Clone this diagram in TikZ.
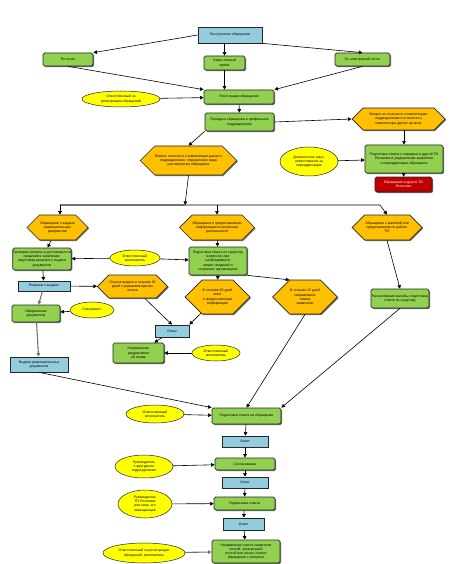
\documentclass[tikz,border=0pt]{standalone}
\usepackage{fontspec}
\setmainfont{Liberation Sans}
\usepackage{xcolor}
\usetikzlibrary{arrows.meta,positioning,shapes.geometric,shapes.symbols,shadows}
\definecolor{boxblue}  {HTML}{93CDDD}
\definecolor{boxgreen} {HTML}{92D050}
\definecolor{hexorange}{HTML}{FFC000}
\definecolor{ovalyel}  {HTML}{FFFF00}
\definecolor{boxred}   {HTML}{C00000}
\definecolor{edgedark} {HTML}{262626}

\begin{document}
\begin{tikzpicture}[x=1pt,y=-1pt,
  every node/.style={font=\fontsize{3.45}{4.2}\selectfont, align=center, inner sep=0.5pt},
  shade/.style={drop shadow={shadow xshift=1.1pt, shadow yshift=-1.1pt, fill=black!55, opacity=1}},
  stagebox/.style={draw=edgedark, line width=0.7pt, fill=boxblue, shade},
  actbox/.style={draw=edgedark, line width=0.7pt, fill=boxgreen, rounded corners=1.6pt, shade},
  stopbox/.style={draw=edgedark, line width=0.7pt, fill=boxred, rounded corners=1.6pt, text=white, shade},
  choice/.style={signal, signal to=west and east, draw=edgedark, line width=0.7pt, fill=hexorange, shade},
  role/.style={ellipse, draw=edgedark, line width=0.5pt, fill=ovalyel},
  link/.style={draw=black, line width=0.6pt, -{Triangle[length=3.6pt,width=3.6pt]}},
  greylink/.style={draw=black!55, line width=1.1pt, -{Triangle[length=3.6pt,width=3.6pt]}}]
  \useasboundingbox (0,0) rectangle (471,564);

  % intake
  \node[stagebox, minimum width=64, minimum height=16] (recv) at (230,35) {Поступление обращения};
  \node[actbox, minimum width=50, minimum height=13] (post) at (68,59.5) {По почте};
  \node[actbox, minimum width=41, minimum height=14] (visit) at (224.5,63) {Через личный\\приём};
  \node[actbox, minimum width=55, minimum height=13] (email) at (362.5,59.5) {По электронной почте};
  \node[actbox, minimum width=70, minimum height=14] (reg) at (239,97) {Регистрация обращения};
  \node[role, minimum width=78, minimum height=16] (resp1) at (121,99) {Ответственный за\\регистрацию обращений};
  \node[actbox, minimum width=69, minimum height=18] (pass) at (239.5,122) {Передача обращения в профильное\\подразделение};

  % redirect branch
  \node[choice, minimum width=93, minimum height=22] (qother) at (398.5,119) {Вопрос не относится к компетенции\\подразделения и относится к\\компетенции других органов};
  \node[actbox, minimum width=78, minimum height=28] (redir) at (404,159) {Подготовка ответа о передаче в другой ТО\\Росатома и уведомление заявителя\\о переадресации обращения};
  \node[role, minimum width=58, minimum height=29] (resp2) at (309,161.5) {Должностное лицо,\\ответственное за\\переадресацию};
  \node[stopbox, minimum width=57, minimum height=15] (otherto) at (403.5,184.5) {Обращение в другие ТО\\Росатома};

  % own competence
  \node[choice, minimum width=89, minimum height=29] (qown) at (188.5,160.5) {Вопрос относится к компетенции данного\\подразделения: определение вида\\рассмотрения обращения};
  \node[choice, minimum width=61, minimum height=25] (qpermit) at (57.5,227.5) {Обращение о выдаче\\разрешительных\\документов};
  \node[choice, minimum width=60, minimum height=25] (qinfo) at (217,227.5) {Обращение о предоставлении\\информации по вопросам\\деятельности};
  \node[choice, minimum width=70, minimum height=25] (qact) at (387,227.5) {Обращение с жалобой или\\предложением по работе\\ТО};

  \node[actbox, minimum width=56, minimum height=22] (check) at (42,259) {Проверка полноты и достоверности\\сведений в заявлении;\\подготовка решения о выдаче\\документов};
  \node[role, minimum width=50, minimum height=16] (exec1) at (135,258) {Ответственный\\исполнитель};
  \node[actbox, minimum width=58, minimum height=28] (answer) at (218,261) {Подготовка ответа по существу\\вопросов, при\\необходимости\\запрос сведений в\\сторонних организациях};
  \node[actbox, minimum width=58, minimum height=19] (actans) at (400,298.5) {Рассмотрение жалобы, подготовка\\ответа по существу};

  \node[stagebox, minimum width=52, minimum height=10] (permit) at (44,286) {Решение о выдаче};
  \node[choice, minimum width=69, minimum height=23] (refuse) at (132.5,286.5) {Отказ в выдаче в течение 30\\дней с указанием причин\\отказа};
  \node[choice, minimum width=55, minimum height=34] (info30) at (217.5,297) {В течение 30 дней\\ответ\\о предоставлении\\информации};
  \node[choice, minimum width=58, minimum height=34] (act15) at (305,297) {В течение 15 дней\\направление\\ответа\\заявителю};
  \node[stagebox, minimum width=34, minimum height=12] (reject) at (172,331) {Отказ};
  \node[actbox, minimum width=48, minimum height=17] (issue) at (36,313.5) {Оформление\\документов};
  \node[role, minimum width=44, minimum height=16] (spec) at (92,310) {Специалист};
  \node[stagebox, minimum width=58, minimum height=15] (handout) at (39,364.5) {Выдача разрешительных\\документов};
  \node[actbox, minimum width=51, minimum height=20] (notify) at (138.5,353) {Направление\\уведомления\\об отказе};
  \node[role, minimum width=48, minimum height=16] (exec2) at (216,353) {Ответственный\\исполнитель};

  % answer chain
  \node[actbox, minimum width=69, minimum height=16] (draft) at (246.5,416) {Подготовка ответа на обращение};
  \node[role, minimum width=58, minimum height=18] (exec3) at (155,414) {Ответственный\\исполнитель};
  \node[stagebox, minimum width=46, minimum height=11] (ans1) at (245,441.5) {Ответ};
  \node[actbox, minimum width=60, minimum height=12] (agree) at (245,464) {Согласование};
  \node[role, minimum width=58, minimum height=23] (head1) at (144,466.5) {Руководитель\\структурного\\подразделения};
  \node[stagebox, minimum width=46, minimum height=11] (ans2) at (245,482.5) {Ответ};
  \node[actbox, minimum width=61, minimum height=13] (sign) at (244.5,503.5) {Подписание ответа};
  \node[role, minimum width=54, minimum height=28] (head2) at (145,504) {Руководитель\\ТО Росатома\\или лицо, его\\замещающее};
  \node[stagebox, minimum width=41, minimum height=12] (ans3) at (243.5,524) {Ответ};
  \node[actbox, minimum width=68, minimum height=23] (send) at (246,551.5) {Направление ответа заявителю\\почтой, электронной\\почтой или лично; снятие\\обращения с контроля};
  \node[role, minimum width=82, minimum height=20] (clerk) at (144,553) {Ответственный за регистрацию\\обращений, исполнитель};

  % junction under the first choice
  \coordinate (jm) at (185,205);
  \coordinate (jl) at (60,205);
  \coordinate (jr) at (380,205);

  \draw[link] (recv.west) -- (post.north east);
  \draw[link] (recv.south -| visit.north) -- (visit.north);
  \draw[link] (recv.south east) -- (email.north);
  \draw[link] (post.south) -- (reg.north west);
  \draw[link] (visit.south) -- (reg.north -| visit.south);
  \draw[link] (email.south) -- (reg.north east);
  \draw[link] (resp1) -- (reg);
  \draw[link] (reg) -- (pass);
  \draw[link] (pass.east) -- (qother.west);
  \draw[link] (qother.south -| redir.north) -- (redir.north);
  \draw[link] (resp2) -- (redir);
  \draw[link] (redir) -- (otherto);
  \draw[link] (pass.south west) -- (qown.north);
  \draw[link] (qown.south) -- (jm);
  \draw[greylink, -] (jm) -- (jl);
  \draw[link] (jl) -- (qpermit.north -| jl);
  \draw[link] (jm) -- (jr) -- (qact.north);
  \draw[link] (qinfo.north |- jm) -- (qinfo.north);

  \draw[link] (qpermit) -- (check);
  \draw[link] (exec1) -- (check);
  \draw[link] (exec1) -- (answer);
  \draw[link] (qinfo) -- (answer);
  \draw[link] (qact.south) -- (actans.north);
  \draw[link] (check) -- (permit);
  \draw[link] (permit) -- (refuse);
  \draw[link] (answer) -- (info30);
  \draw[link] (answer.south east) -- (act15.north west);
  \draw[link] (refuse) -- (reject.north);
  \draw[link] (info30) -- (reject.north east);
  \draw[link] (reject) -- (notify);
  \draw[link] (exec2) -- (notify);
  \draw[greylink] (permit) -- (issue);
  \draw[link] (spec) -- (issue);
  \draw[greylink] (issue) -- (handout);

  \draw[link] (handout.south) -- (draft.north west);
  \draw[link] (act15.south) -- (draft.north);
  \draw[link] (actans.south) -- (draft.north east);
  \draw[link] (exec3) -- (draft);
  \draw[link] (draft) -- (ans1);
  \draw[link] (ans1) -- (agree);
  \draw[link] (head1) -- (agree);
  \draw[link] (agree) -- (ans2);
  \draw[link] (ans2) -- (sign);
  \draw[link] (head2) -- (sign);
  \draw[link] (sign) -- (ans3);
  \draw[link] (ans3) -- (send);
  \draw[greylink] (clerk) -- (send);
\end{tikzpicture}
\end{document}
